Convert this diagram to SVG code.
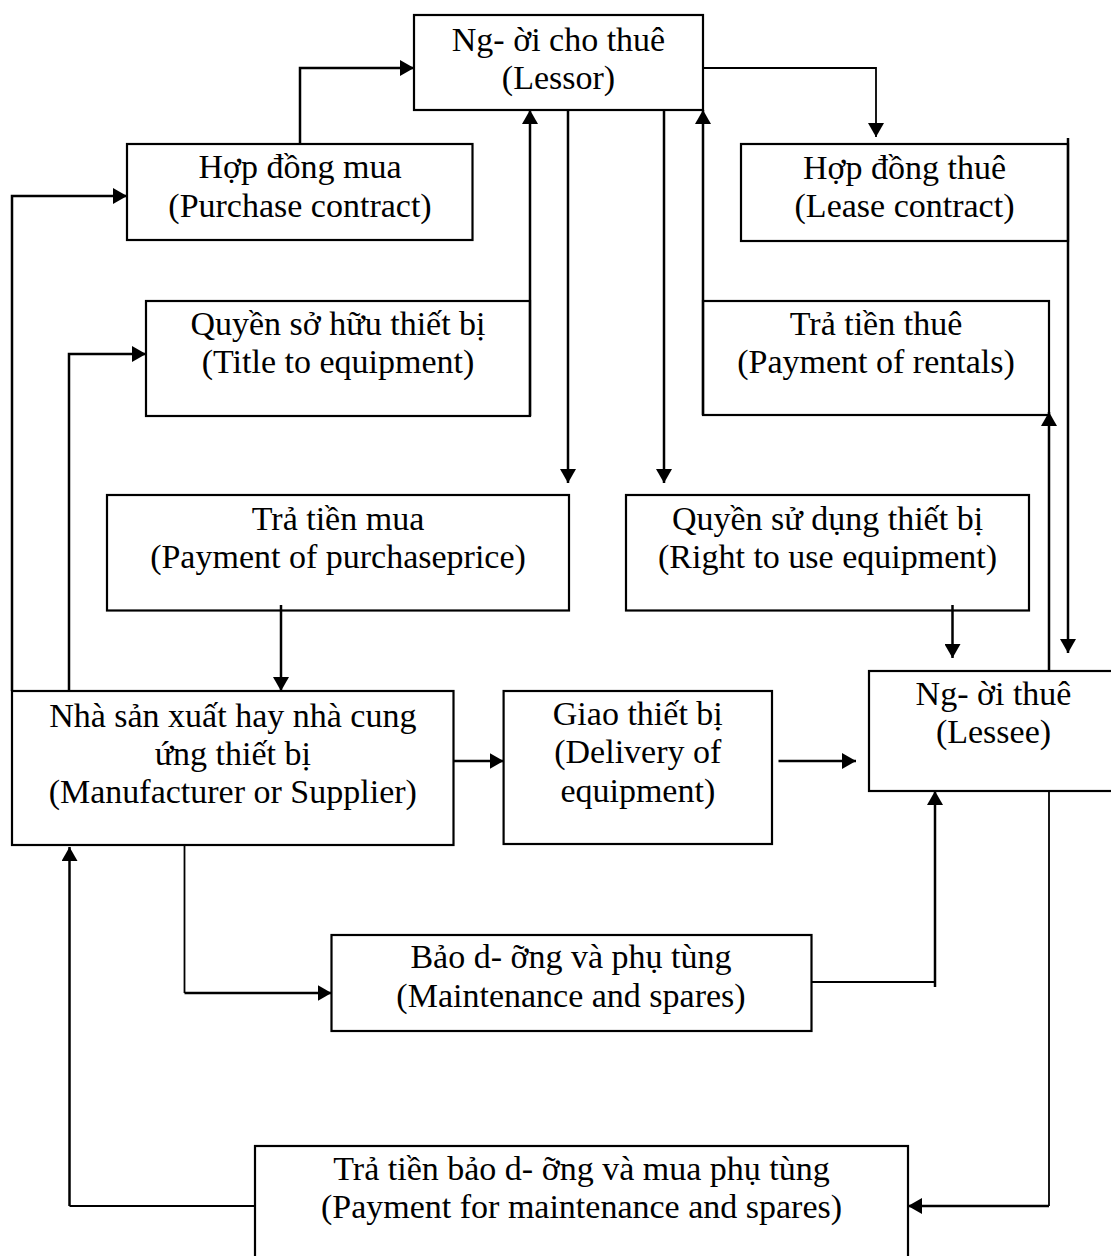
<svg xmlns="http://www.w3.org/2000/svg" width="1111" height="1256" viewBox="0 0 1111 1256">
  <style>
    .box { fill: #ffffff; stroke: #000000; stroke-width: 2.2; }
    .lbl { font-family: "Liberation Serif", "Times New Roman", serif; font-size: 34px; fill: #000000; text-anchor: middle; }
    .wire { fill: none; stroke: #000000; stroke-width: 2.5; }
    .thin { fill: none; stroke: #000000; stroke-width: 1.8; }
    .arr { marker-end: url(#head); }
  </style>
  <defs>
    <marker id="head" markerUnits="userSpaceOnUse" markerWidth="15" markerHeight="16" refX="14" refY="8" orient="auto">
      <path d="M0,0 L14,8 L0,16 z" fill="#000000"/>
    </marker>
  </defs>
  <rect width="1111" height="1256" fill="#ffffff"/>

  <!-- nodes -->
  <g id="lessor">
    <rect class="box" x="414" y="15" width="289" height="95"/>
    <text class="lbl" x="558.5" y="51">Ng- ời cho thuê</text>
    <text class="lbl" x="558.5" y="89">(Lessor)</text>
  </g>
  <g id="purchase-contract">
    <rect class="box" x="127" y="144" width="345.5" height="96"/>
    <text class="lbl" x="300" y="178">Hợp đồng mua</text>
    <text class="lbl" x="300" y="217">(Purchase contract)</text>
  </g>
  <g id="lease-contract">
    <rect class="box" x="741" y="144" width="327" height="97"/>
    <text class="lbl" x="904.5" y="179">Hợp đồng thuê</text>
    <text class="lbl" x="904.5" y="217">(Lease contract)</text>
  </g>
  <g id="title-to-equipment">
    <rect class="box" x="146" y="301" width="384" height="115"/>
    <text class="lbl" x="338" y="335">Quyền sở hữu thiết bị</text>
    <text class="lbl" x="338" y="373">(Title to equipment)</text>
  </g>
  <g id="payment-of-rentals">
    <rect class="box" x="703" y="301" width="346" height="114"/>
    <text class="lbl" x="876" y="335">Trả tiền thuê</text>
    <text class="lbl" x="876" y="373">(Payment of rentals)</text>
  </g>
  <g id="payment-of-purchase-price">
    <rect class="box" x="107" y="495" width="462" height="115.5"/>
    <text class="lbl" x="338" y="530">Trả tiền mua</text>
    <text class="lbl" x="338" y="568">(Payment of purchaseprice)</text>
  </g>
  <g id="right-to-use">
    <rect class="box" x="626" y="495" width="403" height="115.5"/>
    <text class="lbl" x="827.5" y="530">Quyền sử dụng thiết bị</text>
    <text class="lbl" x="827.5" y="568">(Right to use equipment)</text>
  </g>
  <g id="manufacturer">
    <rect class="box" x="12" y="691" width="441.5" height="154"/>
    <text class="lbl" x="232.8" y="727">Nhà sản xuất hay nhà cung</text>
    <text class="lbl" x="232.8" y="765">ứng thiết bị</text>
    <text class="lbl" x="232.8" y="803">(Manufacturer or Supplier)</text>
  </g>
  <g id="delivery">
    <rect class="box" x="503.6" y="691" width="268.4" height="153"/>
    <text class="lbl" x="637.8" y="725">Giao thiết bị</text>
    <text class="lbl" x="637.8" y="763">(Delivery of</text>
    <text class="lbl" x="637.8" y="802">equipment)</text>
  </g>
  <g id="lessee">
    <rect class="box" x="869" y="671" width="249" height="120"/>
    <text class="lbl" x="993.5" y="705">Ng- ời thuê</text>
    <text class="lbl" x="993.5" y="743">(Lessee)</text>
  </g>
  <g id="maintenance">
    <rect class="box" x="331.5" y="935" width="480" height="96"/>
    <text class="lbl" x="571" y="968">Bảo d- ỡng và phụ tùng</text>
    <text class="lbl" x="571" y="1007">(Maintenance and spares)</text>
  </g>
  <g id="payment-maintenance">
    <rect class="box" x="255" y="1146" width="653" height="120"/>
    <text class="lbl" x="581.5" y="1180">Trả tiền bảo d- ỡng và mua phụ tùng</text>
    <text class="lbl" x="581.5" y="1218">(Payment for maintenance and spares)</text>
  </g>

  <!-- connectors -->
  <g id="connectors">
    <path class="wire arr" d="M300,144 V68 H414"/>
    <path class="thin arr" d="M703,68 H876 V137"/>
    <path class="wire arr" d="M12,691 V196 H127"/>
    <path class="wire arr" d="M69,691 V354 H146"/>
    <path class="wire arr" d="M530,416 V110"/>
    <path class="wire arr" d="M703,415 V110"/>
    <path class="wire arr" d="M568,110 V483"/>
    <path class="wire arr" d="M664,110 V483"/>
    <path class="wire arr" d="M1068,138 V653"/>
    <path class="wire arr" d="M1049,671 V412"/>
    <path class="wire arr" d="M281,605 V691"/>
    <path class="wire arr" d="M952.5,605 V658"/>
    <path class="wire arr" d="M453.5,761 H503.6"/>
    <path class="wire arr" d="M778.5,761 H856"/>
    <path class="thin" d="M811.5,982 H935"/>
    <path class="wire arr" d="M935,987 V791"/>
    <path class="thin" d="M184.5,845 V993"/>
    <path class="wire arr" d="M184.5,993 H331.5"/>
    <path class="thin" d="M1049,791 V1206"/>
    <path class="wire arr" d="M1049,1206 H908"/>
    <path class="thin" d="M255,1206 H69.5"/>
    <path class="wire arr" d="M69.5,1206 V847"/>
  </g>
</svg>
